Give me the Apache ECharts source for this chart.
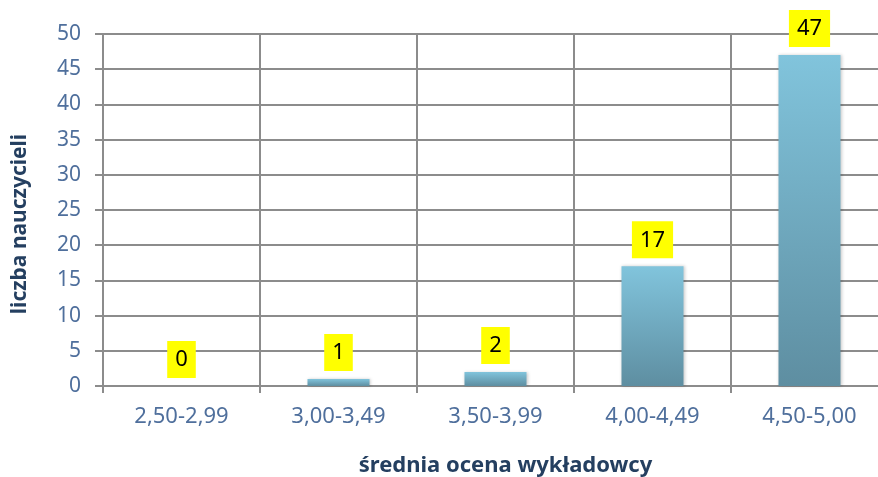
<!DOCTYPE html>
<html>
<head>
<meta charset="utf-8">
<script src="https://cdn.jsdelivr.net/npm/echarts@6/dist/echarts.min.js"></script>
<style>html,body{margin:0;padding:0;background:#fff}#c{width:878px;height:477px}</style>
</head>
<body>
<div id="c"></div>
<script>
var categories = ['2,50-2,99', '3,00-3,49', '3,50-3,99', '4,00-4,49', '4,50-5,00'];
var values = [0, 1, 2, 17, 47];
var yMin = 0, yMax = 50, yStep = 5;
var xName = 'średnia ocena wykładowcy';
var yName = 'liczba nauczycieli';

var font = '"Noto Sans", "Open Sans", sans-serif';
var chart = echarts.init(document.getElementById('c'));
chart.setOption({
  animation: false,
  grid: { left: 103, width: 785, top: 34, bottom: 91, containLabel: false, outerBoundsMode: 'none' },
  xAxis: {
    type: 'category',
    data: categories,
    boundaryGap: true,
    name: xName,
    nameLocation: 'middle',
    nameGap: 69,
    nameTextStyle: { fontFamily: font, fontSize: 22, fontWeight: 'bold', color: '#243f60', padding: [0, 0, 0, 20] },
    axisLine: { lineStyle: { color: '#8c8c8c', width: 2 } },
    axisTick: { show: true, length: 7, alignWithLabel: false, lineStyle: { color: '#8c8c8c', width: 2 } },
    axisLabel: { fontFamily: font, fontSize: 22, color: '#4f6f9c', margin: 20 },
    splitLine: { show: true, lineStyle: { color: '#8c8c8c', width: 2 } }
  },
  yAxis: {
    type: 'value',
    min: yMin, max: yMax, interval: yStep,
    name: yName,
    nameLocation: 'middle',
    nameGap: 72,
    nameTextStyle: { fontFamily: font, fontSize: 21, fontWeight: 'bold', color: '#243f60', padding: [0, 28, 0, 0] },
    axisLine: { show: true, lineStyle: { color: '#8c8c8c', width: 2 } },
    axisTick: { show: true, length: 8, lineStyle: { color: '#8c8c8c', width: 2 } },
    axisLabel: { fontFamily: font, fontSize: 21, color: '#4f6f9c', margin: 22 },
    splitLine: { show: true, lineStyle: { color: '#8c8c8c', width: 2 } }
  },
  series: [{
    type: 'bar',
    data: values,
    barWidth: '39.5%',
    itemStyle: {
      color: new echarts.graphic.LinearGradient(0, 0, 0, 1, [
        { offset: 0, color: '#81c4dc' },
        { offset: 1, color: '#5e8ea1' }
      ]),
      borderWidth: 0,
      shadowColor: 'rgba(0,0,0,0.2)',
      shadowBlur: 3,
      shadowOffsetX: 1,
      shadowOffsetY: 0
    },
    label: {
      show: true,
      position: 'top',
      distance: 8,
      fontFamily: font,
      fontSize: 22,
      color: '#000',
      backgroundColor: '#ffff00',
      padding: [8, 8, 7, 8]
    }
  }]
});
</script>
</body>
</html>
